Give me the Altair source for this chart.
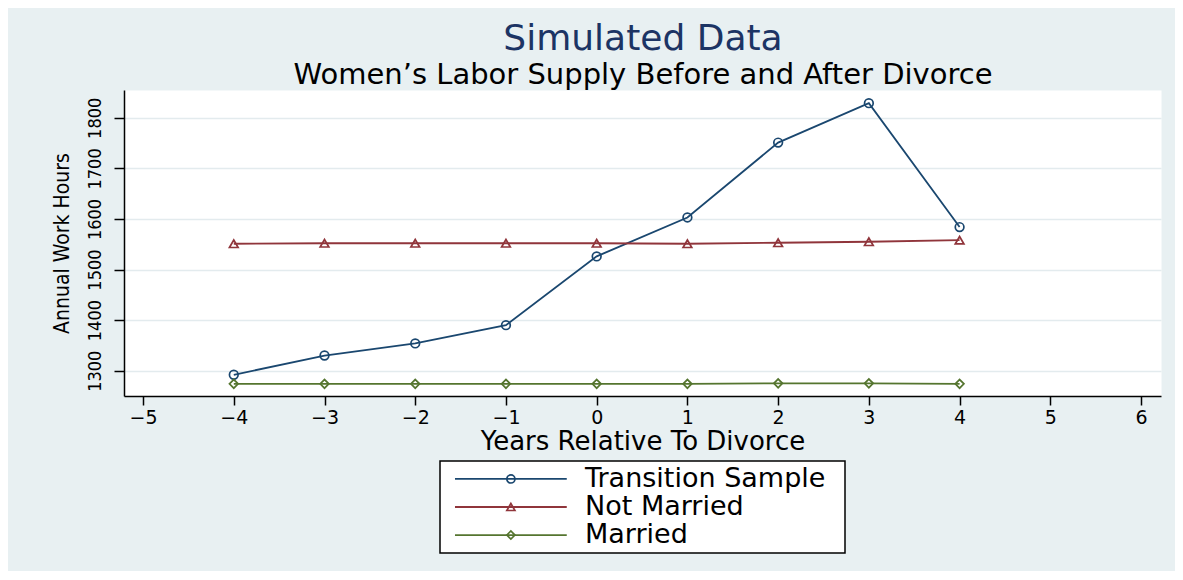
import altair as alt
import pandas as pd

years = [-4, -3, -2, -1, 0, 1, 2, 3, 4]
transition = [1292, 1330, 1354, 1390, 1526, 1603, 1751, 1829, 1584]
not_married = [1551, 1552, 1552, 1552, 1552, 1551, 1553, 1555, 1558]
married = [1274, 1274, 1274, 1274, 1274, 1274, 1275, 1275, 1274]

series_names = ["Transition Sample", "Not Married", "Married"]
series_colors = ["#1a476f", "#90353b", "#55752f"]
series_shapes = ["circle", "triangle-up", "diamond"]
x_ticks = list(range(-5, 7))
y_ticks = [1300, 1400, 1500, 1600, 1700, 1800]

rows = []
for name, vals in zip(series_names, [transition, not_married, married]):
    for yr, v in zip(years, vals):
        rows.append({"year": yr, "hours": v, "series": name})
df = pd.DataFrame(rows)

BG = "#e8f0f2"
HFONT = "DejaVu Sans"
VFONT = "DejaVu Sans Condensed, Liberation Sans Narrow, Liberation Sans, sans-serif"

color = alt.Color("series:N", scale=alt.Scale(domain=series_names, range=series_colors), legend=None)
shape = alt.Shape("series:N", scale=alt.Scale(domain=series_names, range=series_shapes), legend=None)

x = alt.X("year:Q",
          scale=alt.Scale(domain=[-5.21, 6.22], nice=False, zero=False),
          axis=alt.Axis(values=x_ticks, title="Years Relative To Divorce", grid=False,
                        labelFont=HFONT, labelFontSize=19, labelPadding=3,
                        titleFont=HFONT, titleFontSize=26, titleFontWeight="normal", titlePadding=1,
                        tickSize=9, labelFlush=False))
y = alt.Y("hours:Q",
          scale=alt.Scale(domain=[1250, 1855], nice=False, zero=False),
          axis=alt.Axis(values=y_ticks, format="d", title="Annual Work Hours", grid=True,
                        gridColor="#e3ebee", gridWidth=1.5,
                        labelAngle=270, labelFont=VFONT, labelFontSize=18, labelPadding=10,
                        titleFont=VFONT, titleFontSize=21, titleFontWeight="normal", titlePadding=14,
                        tickSize=10, labelFlush=False))

base = alt.Chart(df)
lines = base.mark_line(strokeWidth=1.8).encode(x=x, y=y, color=color)
points = base.mark_point(filled=False, strokeWidth=1.7, size=75, opacity=1).encode(
    x=x, y=y, color=color, shape=shape)
main = alt.layer(lines, points).properties(
    width=1037, height=306,
    view=alt.ViewBackground(fill="white", stroke="transparent"))

# legend panel
leg_df = pd.DataFrame({"series": series_names})
lx = alt.Scale(domain=[0, 1], nice=False, zero=False)
ly = alt.Y("series:N", sort=series_names,
           scale=alt.Scale(type="point", domain=series_names, padding=0.64), axis=None)
lcolor = alt.Color("series:N", scale=alt.Scale(domain=series_names, range=series_colors), legend=None)
lshape = alt.Shape("series:N", scale=alt.Scale(domain=series_names, range=series_shapes), legend=None)
lb = alt.Chart(leg_df)
leg_rule = lb.mark_rule(strokeWidth=1.8).encode(
    x=alt.XDatum(0.037, type="quantitative", scale=lx, axis=None),
    x2=alt.X2Datum(0.313), y=ly, color=lcolor)
leg_pt = lb.mark_point(filled=False, strokeWidth=1.7, size=65, opacity=1).encode(
    x=alt.XDatum(0.175, type="quantitative", scale=lx, axis=None),
    y=ly, color=lcolor, shape=lshape)
leg_txt = lb.mark_text(align="left", baseline="middle", font=HFONT, fontSize=27, color="black").encode(
    x=alt.XDatum(0.358, type="quantitative", scale=lx, axis=None),
    y=ly, text="series:N")
legend = alt.layer(leg_rule, leg_pt, leg_txt).properties(
    width=405, height=92,
    view=alt.ViewBackground(fill="white", stroke="black", strokeWidth=1.5))

chart = alt.vconcat(main, legend, spacing=65, center=True, bounds="flush").properties(
    title=alt.Title(text="Simulated Data",
                    subtitle="Women’s Labor Supply Before and After Divorce",
                    font=HFONT, fontSize=36, fontWeight="normal", color="#1c3464",
                    subtitleFont=HFONT, subtitleFontSize=29, subtitleColor="black",
                    subtitlePadding=3, offset=-1, anchor="middle", dx=37),
    background=BG,
    padding={"left": 42, "top": 12, "right": 13, "bottom": 17},
).configure_axis(
    domainColor="black", domainWidth=1.5, tickColor="black", tickWidth=1.5,
    labelColor="black", titleColor="black"
)

chart.save("out.html", embed_options={"renderer": "svg", "actions": False})
